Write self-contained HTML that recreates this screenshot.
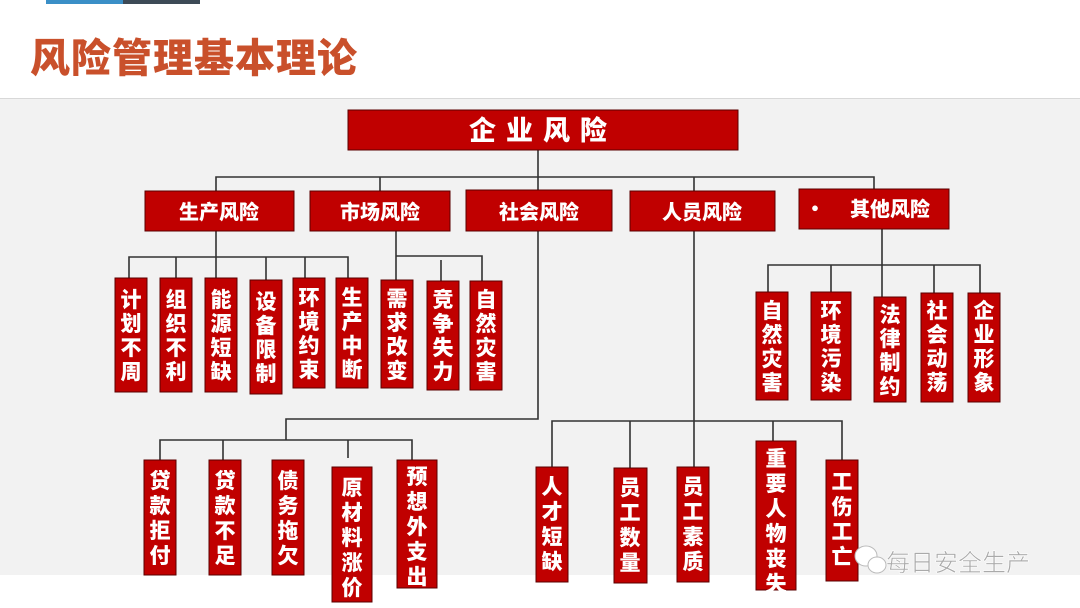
<!DOCTYPE html>
<html><head><meta charset="utf-8"><style>
html,body{margin:0;padding:0;background:#fff;}
body{width:1080px;height:608px;overflow:hidden;position:relative;font-family:"Liberation Sans","Noto Sans CJK SC",sans-serif;}
</style></head><body>
<svg width="1080" height="608" viewBox="0 0 1080 608" xmlns="http://www.w3.org/2000/svg" style="position:absolute;left:0;top:0">
<rect x="46" y="0" width="77" height="4" fill="#3a8fc7"/>
<rect x="123" y="0" width="77" height="4" fill="#3d4a56"/>
<text x="30" y="72" font-family="Noto Sans CJK SC, sans-serif" font-weight="900" font-size="40" fill="#c9502b" letter-spacing="1">风险管理基本理论</text>
<rect x="0" y="98" width="1080" height="477" fill="#f2f2f2"/>
<line x1="0" y1="98.5" x2="1080" y2="98.5" stroke="#d8d8d8"/>
<g stroke="#333" stroke-width="1.6" fill="none">
<path d="M538 150V419H286V440"/>
<path d="M216 191V177H874V189"/>
<path d="M380 177V191M694 177V191"/>
<path d="M216 231V278M129 278V257H348V278M176 257V278M266 257V280M305 257V278"/>
<path d="M396 231V280M396 256H482V281M441 260V281"/>
<path d="M882 229V297M768 292V265H980V300M831 265V292M934 265V300"/>
<path d="M160 460V440H412V460M223 440V460M348 440V458"/>
<path d="M694 231V467M552 467V421H842V460M630 421V468M773 421V441"/>
</g>
<g fill="#c00000" stroke="#5a0000" stroke-width="1">
<rect x="348" y="110" width="390" height="40"/>
<rect x="145" y="191" width="149" height="40"/>
<rect x="310" y="191" width="140" height="40"/>
<rect x="466" y="190" width="146" height="41"/>
<rect x="630" y="191" width="145" height="40"/>
<rect x="799" y="189" width="150" height="40"/>
<rect x="115" y="278" width="32" height="114"/>
<rect x="160" y="278" width="32" height="114"/>
<rect x="205" y="278" width="32" height="114"/>
<rect x="250" y="280" width="32" height="114"/>
<rect x="293" y="278" width="32" height="110"/>
<rect x="336" y="278" width="32" height="110"/>
<rect x="381" y="280" width="32" height="108"/>
<rect x="427" y="281" width="32" height="109"/>
<rect x="470" y="281" width="32" height="109"/>
<rect x="756" y="292" width="32" height="108"/>
<rect x="811" y="292" width="40" height="108"/>
<rect x="874" y="297" width="32" height="105"/>
<rect x="921" y="293" width="32" height="109"/>
<rect x="968" y="293" width="32" height="109"/>
<rect x="144" y="460" width="32" height="115"/>
<rect x="209" y="460" width="32" height="115"/>
<rect x="272" y="460" width="32" height="115"/>
<rect x="332" y="467" width="40" height="135"/>
<rect x="397" y="460" width="40" height="128"/>
<rect x="536" y="467" width="32" height="115"/>
<rect x="614" y="468" width="33" height="115"/>
<rect x="677" y="467" width="32" height="115"/>
<rect x="756" y="441" width="40" height="149"/>
<rect x="826" y="460" width="32" height="121"/>
</g>
<g fill="#fff" font-family="Noto Sans CJK SC, sans-serif" font-weight="900" text-anchor="middle">
<text x="543" y="140" font-size="27" letter-spacing="10">企业风险</text>
<text x="219" y="219" font-size="20">生产风险</text>
<text x="380" y="219" font-size="20">市场风险</text>
<text x="539" y="219" font-size="20">社会风险</text>
<text x="702" y="219" font-size="20">人员风险</text>
<text x="815" y="216" font-size="20">•</text>
<text x="890" y="216" font-size="20">其他风险</text>
</g>
<g fill="#fff" font-family="Noto Sans CJK SC, sans-serif" font-weight="900" font-size="21" text-anchor="middle">
<text x="131" y="307">计<tspan x="131" dy="24">划</tspan><tspan x="131" dy="24">不</tspan><tspan x="131" dy="24">周</tspan></text>
<text x="176" y="307">组<tspan x="176" dy="24">织</tspan><tspan x="176" dy="24">不</tspan><tspan x="176" dy="24">利</tspan></text>
<text x="221" y="307">能<tspan x="221" dy="24">源</tspan><tspan x="221" dy="24">短</tspan><tspan x="221" dy="24">缺</tspan></text>
<text x="266" y="309">设<tspan x="266" dy="24">备</tspan><tspan x="266" dy="24">限</tspan><tspan x="266" dy="24">制</tspan></text>
<text x="309" y="305">环<tspan x="309" dy="24">境</tspan><tspan x="309" dy="24">约</tspan><tspan x="309" dy="24">束</tspan></text>
<text x="352" y="305">生<tspan x="352" dy="24">产</tspan><tspan x="352" dy="24">中</tspan><tspan x="352" dy="24">断</tspan></text>
<text x="397" y="306">需<tspan x="397" dy="24">求</tspan><tspan x="397" dy="24">改</tspan><tspan x="397" dy="24">变</tspan></text>
<text x="443" y="307">竞<tspan x="443" dy="24">争</tspan><tspan x="443" dy="24">失</tspan><tspan x="443" dy="24">力</tspan></text>
<text x="486" y="307">自<tspan x="486" dy="24">然</tspan><tspan x="486" dy="24">灾</tspan><tspan x="486" dy="24">害</tspan></text>
<text x="772" y="318">自<tspan x="772" dy="24">然</tspan><tspan x="772" dy="24">灾</tspan><tspan x="772" dy="24">害</tspan></text>
<text x="831" y="318">环<tspan x="831" dy="24">境</tspan><tspan x="831" dy="24">污</tspan><tspan x="831" dy="24">染</tspan></text>
<text x="890" y="322">法<tspan x="890" dy="24">律</tspan><tspan x="890" dy="24">制</tspan><tspan x="890" dy="24">约</tspan></text>
<text x="937" y="318">社<tspan x="937" dy="24">会</tspan><tspan x="937" dy="24">动</tspan><tspan x="937" dy="24">荡</tspan></text>
<text x="984" y="318">企<tspan x="984" dy="24">业</tspan><tspan x="984" dy="24">形</tspan><tspan x="984" dy="24">象</tspan></text>
<text x="160" y="488">贷<tspan x="160" dy="25">款</tspan><tspan x="160" dy="25">拒</tspan><tspan x="160" dy="25">付</tspan></text>
<text x="225" y="488">贷<tspan x="225" dy="25">款</tspan><tspan x="225" dy="25">不</tspan><tspan x="225" dy="25">足</tspan></text>
<text x="288" y="488">债<tspan x="288" dy="25">务</tspan><tspan x="288" dy="25">拖</tspan><tspan x="288" dy="25">欠</tspan></text>
<text x="352" y="495">原<tspan x="352" dy="25">材</tspan><tspan x="352" dy="25">料</tspan><tspan x="352" dy="25">涨</tspan><tspan x="352" dy="25">价</tspan></text>
<text x="417" y="484">预<tspan x="417" dy="25">想</tspan><tspan x="417" dy="25">外</tspan><tspan x="417" dy="25">支</tspan><tspan x="417" dy="25">出</tspan></text>
<text x="552" y="494">人<tspan x="552" dy="25">才</tspan><tspan x="552" dy="25">短</tspan><tspan x="552" dy="25">缺</tspan></text>
<text x="630" y="495">员<tspan x="630" dy="25">工</tspan><tspan x="630" dy="25">数</tspan><tspan x="630" dy="25">量</tspan></text>
<text x="693" y="494">员<tspan x="693" dy="25">工</tspan><tspan x="693" dy="25">素</tspan><tspan x="693" dy="25">质</tspan></text>
<text x="776" y="466">重<tspan x="776" dy="25">要</tspan><tspan x="776" dy="25">人</tspan><tspan x="776" dy="25">物</tspan><tspan x="776" dy="25">丧</tspan><tspan x="776" dy="25">失</tspan></text>
<text x="842" y="489">工<tspan x="842" dy="25">伤</tspan><tspan x="842" dy="25">工</tspan><tspan x="842" dy="25">亡</tspan></text>
</g>
<g>
<ellipse cx="866" cy="556" rx="11" ry="10" fill="#fff" stroke="#bbb"/>
<ellipse cx="877" cy="565" rx="9" ry="8" fill="#fff" stroke="#bbb"/>
<text x="886" y="571" font-family="Noto Sans CJK SC, sans-serif" font-size="24" fill="#aaa" stroke="#fff" stroke-width="0.6">每日安全生产</text>
</g>
</svg>
</body></html>
